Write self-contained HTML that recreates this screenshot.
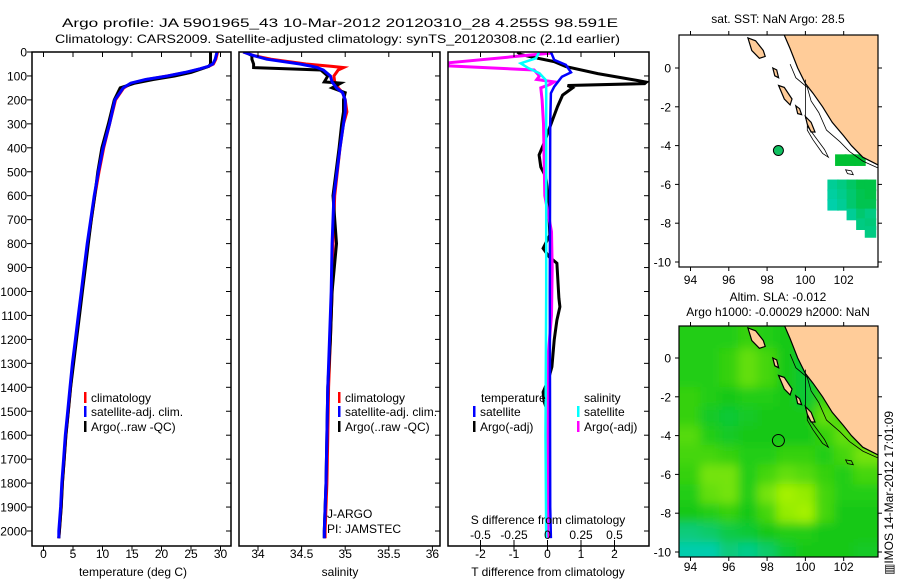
<!DOCTYPE html>
<html><head><meta charset="utf-8"><style>
body{margin:0;background:#fff}
svg text{font-family:"Liberation Sans",sans-serif;font-size:12px;fill:#000}
</style></head><body>
<svg id="fig" xmlns="http://www.w3.org/2000/svg" width="900" height="580" viewBox="0 0 900 580">
<defs>
<clipPath id="cp1"><rect x="32" y="52" width="199" height="494"/></clipPath>
<clipPath id="cp2"><rect x="239" y="52" width="201" height="494"/></clipPath>
<clipPath id="cp3"><rect x="448" y="52" width="201" height="494"/></clipPath>
<clipPath id="cpm1"><rect x="679" y="35" width="199" height="232"/></clipPath>
<clipPath id="cpm2"><rect x="679" y="326" width="199" height="231"/></clipPath>
<filter id="blur" x="-5%" y="-5%" width="110%" height="110%"><feGaussianBlur stdDeviation="5"/></filter>
</defs>
<text x="62" y="27" textLength="556" lengthAdjust="spacingAndGlyphs" font-size="14">Argo profile: JA 5901965_43 10-Mar-2012 20120310_28 4.255S 98.591E</text>
<text x="55" y="43" textLength="565" lengthAdjust="spacingAndGlyphs" font-size="14">Climatology: CARS2009. Satellite-adjusted climatology: synTS_20120308.nc (2.1d earlier)</text>
<g id="g1"></g>
<g id="g2"></g>
<g id="g3"></g>
<g id="m1"></g>
<g id="m2"></g>
<text x="0" y="0" transform="translate(893,575) rotate(-90)" font-size="12">▥IMOS 14-Mar-2012 17:01:09</text>
</svg>
<script>
// ---------- data ----------
const tempDepth = [0,30,50,60,70,85,100,115,130,150,200,300,400,500,600,700,800,900,1000,1100,1200,1300,1400,1500,1600,1700,1800,1900,2000,2030];
const tempClim  = [29.5,29.2,28.8,28.0,26.6,24.2,21.0,17.5,15.0,13.6,12.2,11.2,10.2,9.4,8.7,8.1,7.5,7.0,6.5,6.0,5.5,5.0,4.6,4.2,3.8,3.5,3.2,3.0,2.7,2.6];
const tempSat   = [29.4,29.1,28.7,27.9,26.5,24.0,21.0,17.3,14.8,13.5,12.1,11.2,10.1,9.3,8.6,8.0,7.4,6.9,6.4,5.9,5.4,4.9,4.5,4.1,3.7,3.4,3.1,2.9,2.6,2.6];
const tempArgo  = [28.3,28.3,28.3,28.0,26.8,25.0,22.2,18.6,15.5,13.0,12.0,11.0,9.9,9.2,8.7,8.1,7.6,7.1,6.6,6.1,5.6,5.1,4.6,4.2,3.8,3.5,3.2,3.0,2.7,2.6];
const salDepth = [0,15,30,50,60,65,75,100,125,130,150,170,200,250,300,400,600,800,1000,1200,1400,1600,1800,2000,2030];
const salClim  = [33.83,33.95,34.15,34.55,34.85,34.98,34.92,34.87,34.88,34.9,34.92,34.97,35.0,35.02,34.98,34.94,34.88,34.86,34.85,34.83,34.81,34.8,34.79,34.77,34.77];
const salSat   = [33.83,33.95,34.1,34.48,34.62,34.68,34.75,34.83,34.85,34.86,34.9,34.97,35.0,35.0,34.98,34.94,34.87,34.85,34.84,34.82,34.8,34.79,34.78,34.76,34.76];
const salArgo  = [33.85,33.93,33.93,33.95,33.95,33.95,34.72,34.8,34.76,34.95,34.85,35.0,34.98,34.98,34.96,34.93,34.86,34.9,34.85,34.83,34.8,34.79,34.78,34.76,34.76];
const dtDepthArgo = [0,10,20,40,61,90,117,126,132,140,150,165,180,228,284,380,430,480,521,600,700,765,820,855,882,1028,1064,1120,1203,1315,1370,1420,1460,1500,2000];
const dtArgo      = [-0.9,-0.8,-0.5,0.2,0.55,1.5,2.6,2.95,2.9,0.6,0.75,0.6,0.45,0.3,0.15,-0.1,-0.25,-0.2,-0.05,0.02,0.05,0.07,-0.13,0.05,0.28,0.34,0.37,0.28,0.2,0.13,0.02,-0.13,-0.1,0,0];
const dtDepthSat = [0,33,54,85,103,145,172,300,1000,1900,2030];
const dtSat      = [0.1,0.2,0.55,0.7,0.43,0.2,0.1,0.08,0.07,0.08,0.1];
const dsDepthSat = [0,26,47,68,89,117,150,1000,1600,2030];
const dsSat      = [-0.063,-0.085,-0.2,-0.14,-0.06,-0.013,-0.01,-0.01,-0.015,-0.01];
const dsDepthArgo = [0,5,45,58,75,100,115,125,135,150,200,300,600,750,900,1100,1300,2030];
const dsArgo      = [0.03,0.02,-0.74,-0.74,-0.1,-0.06,-0.08,0.05,0.02,-0.05,-0.04,-0.03,-0.02,0.03,0.035,0.03,0,0];
const depthTicks = [0,100,200,300,400,500,600,700,800,900,1000,1100,1200,1300,1400,1500,1600,1700,1800,1900,2000];
const tempTicks = [0,5,10,15,20,25,30];
const salTicks = [34,34.5,35,35.5,36];
const dtTicks = [-2,-1,0,1,2];
const dsTicks = [-0.5,-0.25,0,0.25,0.5];
const lonTicks = [94,96,98,100,102];
const latTicks = [0,-2,-4,-6,-8,-10];
const argoLon = 98.591, argoLat = -4.255;
const sstCellLon = [101.85,102.35,102.85,101.45,101.95,102.45,102.95,103.4,101.45,101.95,102.45,102.95,103.4,101.45,101.95,102.45,102.95,103.4,102.45,102.95,103.4,102.95,103.4,103.4];
const sstCellLat = [-4.75,-4.75,-4.75,-6.05,-6.05,-6.05,-6.05,-6.05,-6.55,-6.55,-6.55,-6.55,-6.55,-7.05,-7.05,-7.05,-7.05,-7.05,-7.55,-7.55,-7.55,-8.05,-8.05,-8.45];
const sstCellVal = [28.6,28.6,28.6,28.1,28.2,28.35,28.5,28.5,28.05,28.15,28.3,28.45,28.5,28.0,28.1,28.3,28.45,28.45,28.1,28.3,28.2,28.2,28.25,28.2];
const slaLon = [94,95,96,97,98,99,100,101,102,103];
const slaLat = [1,0,-1,-2,-3,-4,-5,-6,-7,-8,-9,-10];
const slaVal = [
 [0.1,0.1,0.1,0.2,0.1,0,-0.1,0,0,0],
 [0.1,0.1,0.2,0.5,0.3,0,-0.2,-0.1,0,0],
 [0.1,0.1,0.2,0.5,0.3,0,-0.2,0,0,0],
 [0.2,0.1,0,0.1,0.1,0,-0.2,0.2,0.2,0.2],
 [0.2,-0.1,-0.2,-0.1,0,0,0,0.5,0.3,0.2],
 [0.4,0.1,-0.1,0,0,0,0,0.2,0.5,0.3],
 [0.3,0.3,0.2,0.1,0.1,0.2,0.2,0.1,0.3,0.6],
 [0.2,0.6,0.6,0.1,0.3,0.5,0.4,0.2,0.1,0.3],
 [0.1,0.5,0.6,0.1,0.6,0.9,0.8,0.3,0.1,0.1],
 [0,0.1,0.2,0,0.3,0.8,0.9,0.3,0,0],
 [-0.6,-0.5,-0.3,-0.2,0,0.1,0.1,0,0,0],
 [-0.9,-0.9,-0.6,-0.7,-0.5,-0.2,0,0,0,-0.1]];
// ---------- helpers ----------
const NS='http://www.w3.org/2000/svg';
function mk(parent,tag,attrs,txt){const e=document.createElementNS(NS,tag);for(const k in attrs)e.setAttribute(k,attrs[k]);if(txt!==undefined)e.textContent=txt;parent.appendChild(e);return e;}
const yD = d => 52 + d*0.2395;
const xT = t => 43.5 + t*5.9;
const xS = s => 258 + (s-34)*87.2;
const xDT = v => 547.5 + v*33.5;
const xDS = v => 547.5 + v*134;
const mx = lon => 679 + (lon-93.4)*19.15;
const my1 = lat => 68 - lat*19.4;
const my2 = lat => 358 - lat*19.4;
function line(parent,depths,vals,xf,color,w,name,clip){
  const pts=depths.map((d,i)=>xf(vals[i]).toFixed(1)+','+yD(d).toFixed(1)).join(' ');
  const p=mk(parent,'polyline',{points:pts,fill:'none',stroke:color,'stroke-width':w,'clip-path':'url(#'+clip+')'});
  
  
}
function frame(parent,x,w,name){
  const r=mk(parent,'rect',{x:x,y:52,width:w,height:494,fill:'none',stroke:'#000','stroke-width':1.5});
  
  
}
function vtick(parent,x){mk(parent,'line',{x1:x,y1:52,x2:x,y2:57,stroke:'#000'});mk(parent,'line',{x1:x,y1:546,x2:x,y2:551,stroke:'#000'});}
function rightTicks(parent,xr){depthTicks.forEach(d=>mk(parent,'line',{x1:xr-5,y1:yD(d),x2:xr,y2:yD(d),stroke:'#000'}));}
function legend(parent,x,y,color,label){
  mk(parent,'rect',{x:x,y:y-10,width:2.5,height:11,fill:color});
  const t=mk(parent,'text',{x:x+7,y:y},label);
  
  
}
// ---------- panel 1 ----------
const g1=document.getElementById('g1');
line(g1,tempDepth,tempClim,xT,'#f00',3,'temp-climatology-line','cp1');
line(g1,tempDepth,tempArgo,xT,'#000',3,'temp-argo-line','cp1');
line(g1,tempDepth,tempSat,xT,'#00f',3,'temp-satellite-line','cp1');
frame(g1,32,199,'temperature-axes-frame');
depthTicks.forEach(d=>{mk(g1,'line',{x1:27,y1:yD(d),x2:32,y2:yD(d),stroke:'#000'});
  const t=mk(g1,'text',{x:27,y:yD(d)+4.5,'text-anchor':'end','font-size':'12.5'},String(d));
  
  });
rightTicks(g1,231);
tempTicks.forEach(v=>{vtick(g1,xT(v));const t=mk(g1,'text',{x:xT(v),y:558,'text-anchor':'middle','font-size':'12.5'},String(v));
  
  });
mk(g1,'text',{x:133,y:576,'text-anchor':'middle','font-size':'13',},'temperature (deg C)');
legend(g1,84,402,'#f00','climatology');legend(g1,84,416,'#00f','satellite-adj. clim.');legend(g1,84,431,'#000','Argo(..raw -QC)');
// ---------- panel 2 ----------
const g2=document.getElementById('g2');
line(g2,salDepth,salClim,xS,'#f00',3,'salinity-climatology-line','cp2');
line(g2,salDepth,salArgo,xS,'#000',3,'salinity-argo-line','cp2');
line(g2,salDepth,salSat,xS,'#00f',3,'salinity-satellite-line','cp2');
frame(g2,239,201,'salinity-axes-frame');
rightTicks(g2,440);
salTicks.forEach(v=>{vtick(g2,xS(v));const t=mk(g2,'text',{x:xS(v),y:558,'text-anchor':'middle','font-size':'12.5'},String(v));
  
  });
mk(g2,'text',{x:340,y:576,'text-anchor':'middle','font-size':'13',},'salinity');
legend(g2,338,402,'#f00','climatology');legend(g2,338,416,'#00f','satellite-adj. clim.');legend(g2,338,431,'#000','Argo(..raw -QC)');
mk(g2,'text',{x:327,y:518,},'J-ARGO');
mk(g2,'text',{x:327,y:533,},'PI: JAMSTEC');
// ---------- panel 3 ----------
const g3=document.getElementById('g3');
line(g3,dtDepthArgo,dtArgo,xDT,'#000',3,'t-diff-argo-line','cp3');
line(g3,dsDepthArgo,dsArgo,xDS,'#f0f',3,'s-diff-argo-line','cp3');
line(g3,dtDepthSat,dtSat,xDT,'#00f',2.5,'t-diff-satellite-line','cp3');
line(g3,dsDepthSat,dsSat,xDS,'#0ff',2.5,'s-diff-satellite-line','cp3');
frame(g3,448,201,'difference-axes-frame');
rightTicks(g3,649);
dtTicks.forEach(v=>{vtick(g3,xDT(v));const t=mk(g3,'text',{x:xDT(v),y:558,'text-anchor':'middle','font-size':'12.5'},String(v));
  
  });
dsTicks.forEach(v=>{mk(g3,'line',{x1:xDS(v),y1:540,x2:xDS(v),y2:546,stroke:'#000'});const t=mk(g3,'text',{x:xDS(v),y:539,'text-anchor':'middle','font-size':'12.5'},String(v));
  
  });
mk(g3,'text',{x:548,y:524,'text-anchor':'middle','font-size':'12.5',},'S difference from climatology');
mk(g3,'text',{x:548,y:576,'text-anchor':'middle','font-size':'13',},'T difference from climatology');
mk(g3,'text',{x:481,y:402},'temperature');mk(g3,'text',{x:584,y:402},'salinity');
legend(g3,473,416,'#00f','satellite');legend(g3,473,431,'#000','Argo(-adj)');
legend(g3,577,416,'#0ff','satellite');legend(g3,577,431,'#f0f','Argo(-adj)');
// ---------- maps ----------
const sumatra=[[98.85,1.8],[99.2,1.0],[99.6,0],[100.0,-0.8],[100.4,-1.3],[100.9,-2.0],[101.4,-2.8],[102.0,-3.5],[102.4,-4.0],[103.0,-4.6],[103.9,-5.05],[103.9,1.8]];
const islands=[
 [[97.0,1.55],[97.4,1.4],[97.8,0.9],[97.9,0.6],[97.6,0.5],[97.2,0.9]],
 [[98.3,0],[98.5,-0.1],[98.6,-0.5],[98.4,-0.4]],
 [[98.6,-0.9],[98.9,-1.0],[99.3,-1.6],[99.2,-1.9],[98.9,-1.6]],
 [[99.5,-1.95],[99.7,-2.1],[99.8,-2.4],[99.6,-2.35]],
 [[100.0,-2.5],[100.3,-2.8],[100.5,-3.3],[100.3,-3.3],[100.1,-2.9]]];
const contour=[[99.2,0.2],[99.5,-0.5],[100.1,-1.0],[100.3,-1.7],[100.7,-2.3],[101.1,-3.2],[101.8,-3.8],[102.3,-4.3],[103.0,-4.8],[103.9,-5.2]];
const mentawai=[[100.1,-3.0],[100.7,-3.8],[101.0,-4.2],[101.2,-4.6],[100.9,-4.4],[100.4,-3.7],[100.1,-3.2]];
const enggano=[[102.1,-5.25],[102.4,-5.3],[102.5,-5.5],[102.2,-5.45]];
function poly(p,pts,my,attrs,name){const e=mk(p,'polygon',Object.assign({points:pts.map(q=>mx(q[0]).toFixed(1)+','+my(q[1]).toFixed(1)).join(' ')},attrs));return e;}
function drawLand(p,my,clip){
  const g=mk(p,'g',{'clip-path':'url(#'+clip+')'});
  poly(g,sumatra,my,{fill:'#ffcc99',stroke:'#000','stroke-width':1.2},'sumatra-land');
  islands.forEach(is=>poly(g,is,my,{fill:'#ffcc99',stroke:'#000','stroke-width':1.2},'island'));
  const c=mk(g,'polyline',{points:contour.map(q=>mx(q[0]).toFixed(1)+','+my(q[1]).toFixed(1)).join(' '),fill:'none',stroke:'#000','stroke-width':0.8});
  
  
  poly(g,mentawai,my,{fill:'none',stroke:'#000','stroke-width':0.8},'shelf-contour');
  poly(g,enggano,my,{fill:'none',stroke:'#000','stroke-width':0.8},'enggano-outline');
  mk(g,'line',{x1:mx(100),y1:my(-0.6),x2:mx(100),y2:my(-2.6),stroke:'#000','stroke-width':0.8});
}
function mapAxes(p,top,bot,my,labY){
  const r=mk(p,'rect',{x:679,y:top,width:199,height:bot-top,fill:'none',stroke:'#000','stroke-width':1.2});
  
  
  lonTicks.forEach(l=>{mk(p,'line',{x1:mx(l),y1:top-4,x2:mx(l),y2:top,stroke:'#000'});mk(p,'line',{x1:mx(l),y1:bot,x2:mx(l),y2:bot+4,stroke:'#000'});
    const t=mk(p,'text',{x:mx(l),y:labY,'text-anchor':'middle','font-size':'12.5'},String(l));
    
    });
  latTicks.forEach(l=>{mk(p,'line',{x1:675,y1:my(l),x2:679,y2:my(l),stroke:'#000'});mk(p,'line',{x1:878,y1:my(l),x2:882,y2:my(l),stroke:'#000'});
    const t=mk(p,'text',{x:671,y:my(l)+4.5,'text-anchor':'end','font-size':'12.5'},String(l));
    
    });
}
function lerpCol(a,b,f){return 'rgb('+a.map((v,i)=>Math.round(v+(b[i]-v)*f)).join(',')+')';}
// map 1
const m1=document.getElementById('m1');
mk(m1,'text',{x:778,y:23,'text-anchor':'middle','font-size':'13',},'sat. SST: NaN Argo: 28.5');
const m1c=mk(m1,'g',{'clip-path':'url(#cpm1)'});
sstCellLon.forEach((lon,i)=>{
  const f=Math.max(0,Math.min(1,(sstCellVal[i]-28.0)/0.6));
  const r=mk(m1c,'rect',{x:mx(lon-0.3),y:my1(sstCellLat[i]+0.3),width:0.6*19.15,height:0.6*19.4,fill:lerpCol([0,208,170],[0,192,50],f)});
  
  
});
drawLand(m1,my1,'cpm1');
const dot=mk(m1,'circle',{cx:mx(argoLon),cy:my1(argoLat),r:5,fill:'#10c060',stroke:'#000','stroke-width':1});


mapAxes(m1,35,267,my1,284);
// map 2
const m2=document.getElementById('m2');
mk(m2,'text',{x:778,y:301,'text-anchor':'middle','font-size':'13',},'Altim. SLA: -0.012');
mk(m2,'text',{x:778,y:316,'text-anchor':'middle','font-size':'13',},'Argo h1000: -0.00029 h2000: NaN');
const m2c=mk(m2,'g',{'clip-path':'url(#cpm2)'});
const m2b=mk(m2c,'g',{filter:'url(#blur)'});
slaLat.forEach((lat,j)=>slaLon.forEach((lon,i)=>{
  const v=slaVal[j][i];
  const col=v>=0?lerpCol([20,200,20],[180,245,0],Math.min(1,v)):lerpCol([20,200,20],[0,205,190],Math.min(1,-v));
  const r=mk(m2b,'rect',{x:mx(lon-0.5)-(i===0?20:0),y:my2(lat+0.5)-(j===0?20:0),width:19.15+1+(i===0||i===9?20:0),height:19.4+1+(j===0||j===11?20:0),fill:col});
  
  
}));
drawLand(m2,my2,'cpm2');
const ring=mk(m2,'circle',{cx:mx(argoLon),cy:my2(argoLat),r:6,fill:'none',stroke:'#000','stroke-width':1});


mapAxes(m2,326,557,my2,571);
</script>
</body></html>
